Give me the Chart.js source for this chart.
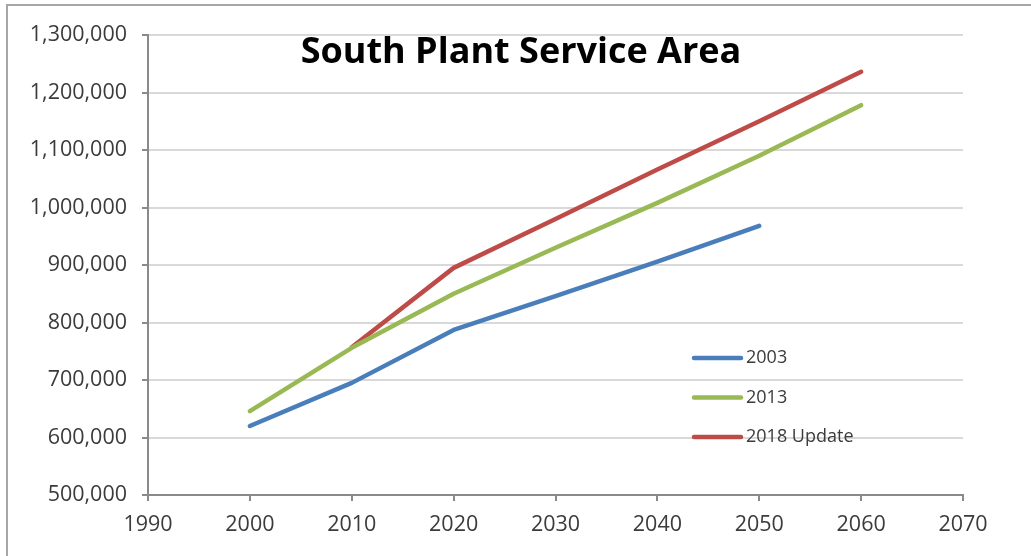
<!DOCTYPE html>
<html>
<head>
<meta charset="utf-8">
<script src="https://cdn.jsdelivr.net/npm/chart.js@4.4.1/dist/chart.umd.min.js"></script>
<style>
  html, body { margin: 0; padding: 0; background: #fff; overflow: hidden; }
  #wrap { position: relative; width: 1031px; height: 556px; }
  #frame { position: absolute; left: 6px; top: 4px; width: 1100px; height: 600px; border: 2px solid #a6a6a6; box-sizing: border-box; }
  canvas { position: absolute; left: 0; top: 0; }
</style>
</head>
<body>
<div id="wrap">
  <div id="frame"></div>
  <canvas id="chart" width="1031" height="556"></canvas>
</div>
<script>
// ── Data ──────────────────────────────────────────────────────
const years       = [2000, 2010, 2020, 2030, 2040, 2050, 2060];
const plan2003    = [620000, 695000, 787000, 846000, 906000, 968000, null];
const plan2013    = [646000, 756000, 850000, 930000, 1008000, 1090000, 1178000];
const update2018  = [null, 757000, 895000, 980000, 1066000, 1150000, 1236000];
const seriesNames = ["2003", "2013", "2018 Update"];
const yTicks      = [500000, 1300000, 100000]; // min, max, step
const xTicks      = [1990, 2070, 10];

const FONT = "'Open Sans', 'Noto Sans', sans-serif";
const TEXT = "#3b3b3b";
const AXIS = "#8a8a8a";

function toPoints(vals) {
  return years.map((y, i) => ({ x: y, y: vals[i] })).filter(p => p.y !== null);
}

function series(label, vals, color) {
  return {
    label,
    data: toPoints(vals),
    borderColor: color,
    backgroundColor: color,
    borderWidth: 4.5,
    pointRadius: 0,
    tension: 0,
    borderCapStyle: "round",
    borderJoinStyle: "round",
  };
}

// ── Title drawn inside the plot, like the original ────────────
const titlePlugin = {
  id: "innerTitle",
  afterDraw(chart) {
    const { ctx } = chart;
    ctx.save();
    ctx.font = `bold 36px ${FONT}`;
    ctx.fillStyle = "#000";
    ctx.textAlign = "center";
    ctx.textBaseline = "middle";
    ctx.fillText("South Plant Service Area", 521, 53);
    ctx.restore();
  },
};

// ── Legend drawn inside the plot, lower right ─────────────────
const innerLegend = {
  id: "innerLegend",
  afterDraw(chart) {
    const { ctx } = chart;
    ctx.save();
    ctx.font = `18px ${FONT}`;
    ctx.textBaseline = "middle";
    chart.data.datasets.forEach((ds, i) => {
      const y = 358 + i * 39.5;
      ctx.strokeStyle = ds.borderColor;
      ctx.lineWidth = 4.5;
      ctx.lineCap = "round";
      ctx.beginPath();
      ctx.moveTo(694, y);
      ctx.lineTo(741, y);
      ctx.stroke();
      ctx.fillStyle = TEXT;
      ctx.fillText(ds.label, 746, y);
    });
    ctx.restore();
  },
};

new Chart(document.getElementById("chart").getContext("2d"), {
  type: "line",
  data: {
    datasets: [
      series(seriesNames[0], plan2003,   "#4A7EBB"),
      series(seriesNames[1], plan2013,   "#98B954"),
      series(seriesNames[2], update2018, "#BE4B48"),
    ],
  },
  options: {
    responsive: false,
    animation: false,
    events: [],
    layout: { padding: { top: 35, right: 68, left: 0, bottom: 0 } },
    plugins: { legend: { display: false }, tooltip: { enabled: false } },
    scales: {
      x: {
        type: "linear",
        min: xTicks[0],
        max: xTicks[1],
        afterFit: s => { s.height = 61; },
        ticks: { stepSize: xTicks[2], color: TEXT, font: { family: FONT, size: 21.5 }, padding: 11, callback: v => String(v) },
        grid: { drawOnChartArea: false, drawTicks: true, tickLength: 6, tickColor: AXIS, lineWidth: 2 },
        border: { color: AXIS, width: 2 },
      },
      y: {
        min: yTicks[0],
        max: yTicks[1],
        afterFit: s => { s.width = 148; },
        ticks: { stepSize: yTicks[2], color: TEXT, font: { family: FONT, size: 21.5 }, padding: 15, callback: v => v.toLocaleString("en-US") },
        grid: { color: "#d9d9d9", lineWidth: 2, tickLength: 6, tickColor: AXIS },
        border: { color: AXIS, width: 2 },
      },
    },
  },
  plugins: [titlePlugin, innerLegend],
});
</script>
</body>
</html>
